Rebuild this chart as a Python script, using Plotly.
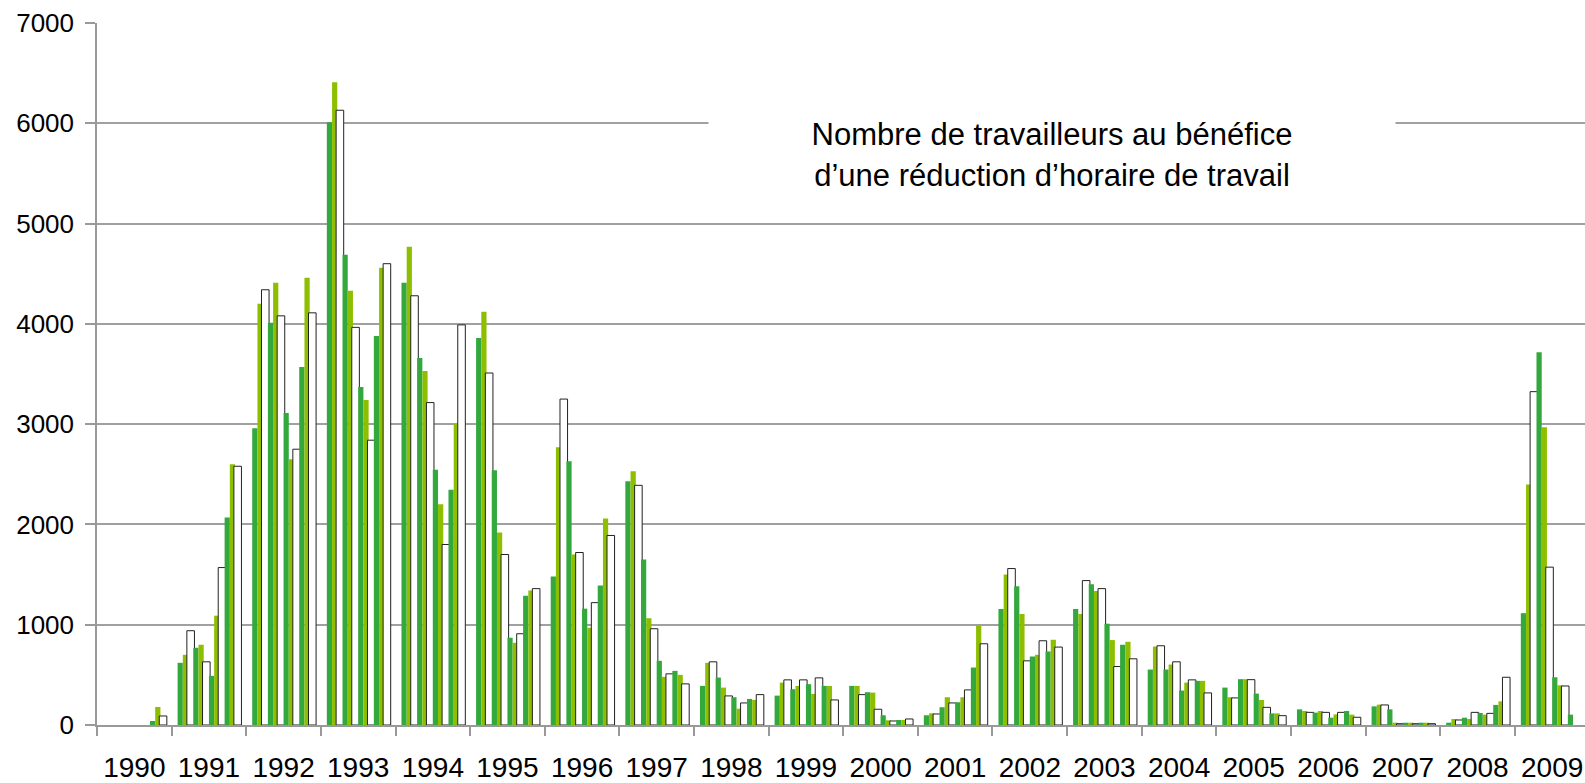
import plotly.graph_objects as go

years = [str(y) for y in range(1990, 2010)]
months = ["Jan", "Feb", "Mar", "Apr", "May", "Jun", "Jul", "Aug", "Sep", "Oct", "Nov", "Dec"]

# Monthly values (workers with reduced working hours), one list per year
v1990 = [None, None, None, None, None, None, None, None, None, 40, 180, 90]
v1991 = [620, 700, 940, 770, 800, 630, 490, 1090, 1570, 2070, 2600, 2580]
v1992 = [2960, 4200, 4340, 4010, 4410, 4080, 3110, 2650, 2750, 3570, 4460, 4110]
v1993 = [6010, 6410, 6130, 4690, 4330, 3965, 3370, 3240, 2840, 3880, 4560, 4600]
v1994 = [4410, 4770, 4280, 3660, 3530, 3215, 2545, 2200, 1800, 2345, 3005, 3990]
v1995 = [3860, 4120, 3510, 2540, 1920, 1700, 870, 820, 910, 1290, 1340, 1360]
v1996 = [1480, 2770, 3250, 2630, 1700, 1720, 1160, 970, 1220, 1390, 2060, 1890]
v1997 = [2430, 2530, 2390, 1650, 1065, 960, 640, 480, 510, 540, 500, 410]
v1998 = [390, 620, 630, 473, 373, 290, 277, 163, 220, 260, 250, 303]
v1999 = [293, 423, 450, 357, 390, 450, 407, 310, 470, 390, 390, 250]
v2000 = [390, 390, 303, 327, 323, 157, 97, 47, 40, 50, 50, 60]
v2001 = [97, 117, 110, 177, 277, 220, 227, 277, 350, 573, 993, 810]
v2002 = [1157, 1500, 1560, 1383, 1107, 640, 683, 700, 840, 733, 850, 777]
v2003 = [1157, 1107, 1440, 1403, 1337, 1360, 1010, 847, 583, 800, 830, 660]
v2004 = [553, 783, 790, 553, 603, 630, 343, 423, 450, 440, 440, 320]
v2005 = [373, 277, 270, 457, 457, 452, 313, 250, 176, 116, 116, 93]
v2006 = [156, 140, 126, 123, 140, 126, 73, 106, 126, 140, 103, 77]
v2007 = [186, 203, 200, 156, 23, 13, 23, 23, 13, 23, 23, 13]
v2008 = [23, 60, 50, 73, 60, 126, 120, 103, 116, 200, 236, 476]
v2009 = [1115, 2399, 3324, 3717, 2968, 1574, 476, 396, 389, 103, None, None]

yearly = [v1990, v1991, v1992, v1993, v1994, v1995, v1996, v1997, v1998, v1999,
          v2000, v2001, v2002, v2003, v2004, v2005, v2006, v2007, v2008, v2009]

title_text = "Nombre de travailleurs au bénéfice<br>d’une réduction d’horaire de travail"

DARK = "#33a83d"
LIGHT = "#8dbf00"
BARGAP = 0.16
SLOT = (1 - BARGAP) / 12

fig = go.Figure()
for m, name in enumerate(months):
    vals = [yr[m] for yr in yearly]
    kind = m % 3
    if kind == 0:
        marker = dict(color=DARK, line=dict(width=0))
        w = None
    elif kind == 1:
        marker = dict(color=LIGHT, line=dict(width=0))
        w = None
    else:
        marker = dict(color="white", line=dict(color="#222222", width=1))
        w = SLOT * 1.45
    fig.add_trace(go.Bar(x=years, y=vals, name=name, marker=marker, width=w,
                         showlegend=False))

fig.update_layout(
    width=1585, height=783,
    margin=dict(l=97, r=0, t=23, b=58, autoexpand=False),
    paper_bgcolor="white", plot_bgcolor="white",
    barmode="group", bargap=BARGAP, bargroupgap=0,
    font=dict(family="Liberation Sans, Arial, sans-serif", color="#000"),
)
fig.update_xaxes(
    type="category", range=[-0.5, 19.44], automargin=False,
    tickson="boundaries", ticks="outside", ticklen=9, tickcolor="#999999", tickwidth=1.5,
    showline=True, linecolor="#999999", linewidth=1.5,
    showgrid=False, tickangle=0,
    tickfont=dict(family="Liberation Sans, Arial, sans-serif", size=28, color="#000"),
    ticklabelstandoff=17,
)
fig.update_yaxes(
    range=[0, 7000], dtick=1000, tick0=0, automargin=False,
    showgrid=True, gridcolor="#a0a0a0", gridwidth=1.5,
    showline=True, linecolor="#999999", linewidth=1.5,
    ticks="outside", ticklen=10, tickcolor="#999999", tickwidth=1.5,
    tickfont=dict(family="Liberation Sans, Arial, sans-serif", size=26, color="#000"),
    ticklabelstandoff=6,
    zeroline=False,
)
fig.add_annotation(
    text=title_text, xref="paper", yref="paper", x=0.642, y=0.812,
    xanchor="center", yanchor="middle", showarrow=False,
    width=684, height=96, bgcolor="white", align="center",
    font=dict(family="Liberation Sans, Arial, sans-serif", size=31, color="#000"),
)

fig.write_html(
    "out.html",
    config={"displayModeBar": False},
    post_script="document.body.style.margin='0';document.body.style.overflow='hidden';",
)
